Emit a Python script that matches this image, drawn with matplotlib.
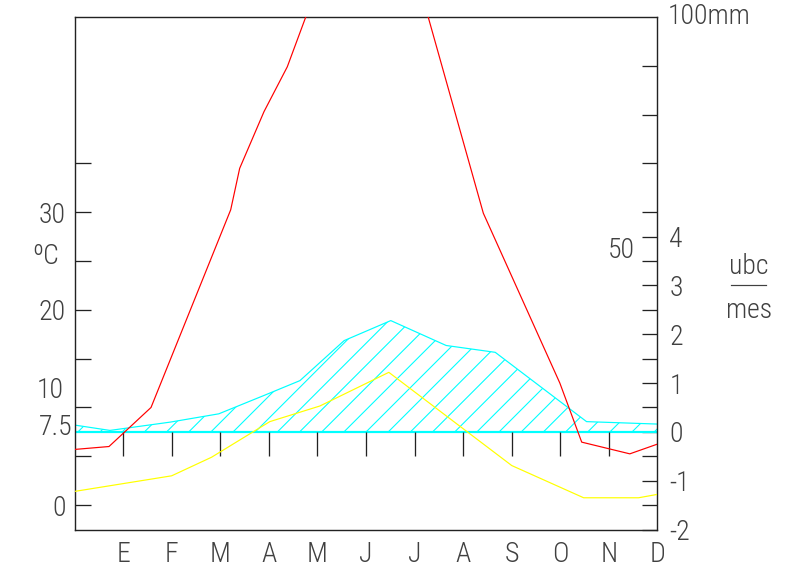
import os
import numpy as np
import matplotlib
matplotlib.use("Agg")
from matplotlib import pyplot as plt
from matplotlib import font_manager as fm
from matplotlib.lines import Line2D

# dpi chosen so that the '//' hatch spacing matches the reference
DPI = 133
PX = 72 / DPI  # points per pixel
W, H = 795, 571

plt.rcParams['hatch.linewidth'] = 1.1 * PX

months = ['E', 'F', 'M', 'A', 'M', 'J', 'J', 'A', 'S', 'O', 'N', 'D']

# temperature (ºC), yellow
temp_x = [0, 2.0, 2.82, 4.02, 5.05, 6.47, 9.0, 10.48, 11.61, 12]
temp_c = [1.4, 3.0, 4.9, 8.55, 10.15, 13.6, 4.05, 0.75, 0.75, 1.1]

# precipitation (mm), red, goes above 100 mm in summer (clipped)
rain_x = [0, 0.71, 1.575, 3.215, 3.40, 3.90, 4.38, 4.76, 5.4, 6.2, 6.9,
          7.28, 8.415, 9.99, 10.44, 11.43, 12]
rain_mm = [11.4, 12.0, 20.0, 60.5, 69, 80.6, 89.8, 100, 115, 125, 110,
           100, 59.8, 25.0, 12.9, 10.5, 12.5]

# ubc/mes, cyan hatched area
ubc_x = [0, 0.73, 1.97, 2.97, 3.91, 4.64, 5.55, 6.51, 7.65, 8.66, 10.54, 12]
ubc_val = [0.14, 0.03, 0.2, 0.37, 0.75, 1.05, 1.87, 2.28, 1.77, 1.63, 0.21, 0.16]

temp_ticks = [0, 5, 10, 15, 20, 25, 30, 35]
temp_labels = ['0', '', '', '', '20', '', '30', '']
mm_ticks = [0, 10, 20, 30, 40, 50, 60, 70, 80, 90]
ubc_ticks = [-2, -1, 0, 1, 2, 3, 4]

TXT = '#404040'
INK = '#222222'
FS = 15

# look for a narrow, light font file (the original uses a thin plotter font)
wanted = ['NotoSans-ExtraCondensedLight.', 'NotoSans-ExtraCondensed.',
          'NotoSans-CondensedLight.', 'NotoSans-Condensed.',
          'RobotoCondensed-Light', 'RobotoCondensed-Regular',
          'LiberationSansNarrow-Regular', 'DejaVuSansCondensed.']
files = [f.fname for f in fm.fontManager.ttflist]
font_file = None
for w in wanted:
    hits = [p for p in files if os.path.basename(p).startswith(w)]
    if hits:
        font_file = hits[0]
        break
if font_file:
    fp = fm.FontProperties(fname=font_file, size=FS)
else:
    fp = fm.FontProperties(family='DejaVu Sans', stretch='condensed', size=FS)

fig = plt.figure(figsize=(W / DPI, H / DPI), dpi=DPI)
pos = [74.5 / W, 1 - 529.5 / H, 583 / W, 512.5 / H]

axu = fig.add_axes(pos)      # ubc axis (drawn first, under the lines)
ax = axu.twinx()             # temperature axis
axm = axu.twinx()            # mm axis

axu.set_xlim(0, 12)
axu.set_ylim(-2, 8.5)
ax.set_ylim(-2.5, 50)
axm.set_ylim(-5, 100)

for s in axu.spines.values():
    s.set_color(INK)
    s.set_linewidth(1.4 * PX)
for a in (ax, axm):
    for s in a.spines.values():
        s.set_visible(False)

# months along the bottom
axu.set_xticks(np.arange(1, len(months) + 1), labels=months)
axu.tick_params(axis='x', length=0, pad=11 * PX, labelcolor=TXT)

# ubc ticks on the right
axu.yaxis.tick_right()
axu.set_yticks(ubc_ticks, labels=[str(v) for v in ubc_ticks])
axu.tick_params(axis='y', direction='in', length=15 * PX, width=1.3 * PX,
                color=INK, pad=12 * PX, labelcolor=TXT)

# temperature ticks on the left
ax.yaxis.tick_left()
ax.set_yticks(temp_ticks, labels=temp_labels)
ax.tick_params(axis='y', direction='in', length=16 * PX, width=1.3 * PX,
               color=INK, pad=9 * PX, labelcolor=TXT)

# mm ticks on the right, no labels
axm.set_yticks(mm_ticks, labels=[])
axm.tick_params(axis='y', direction='in', length=15 * PX, width=1.3 * PX,
                color=INK)

for lab in axu.get_xticklabels() + axu.get_yticklabels() + ax.get_yticklabels():
    lab.set_fontproperties(fp)

# cyan hatched area
axu.fill_between(ubc_x, ubc_val, 0, facecolor='none', edgecolor='#00ffff',
                 hatch='//', linewidth=0)
axu.plot(ubc_x, ubc_val, color='#00ffff', lw=1.2 * PX)
axu.axhline(0, color='#00ffff', lw=2.2 * PX)

# month marks under the zero line
ax.vlines(np.arange(1, len(months)), 5, 7.5, color=INK, lw=1.3 * PX)

ax.plot(temp_x, temp_c, color='#ffff00', lw=1.2 * PX)
axm.plot(rain_x, rain_mm, color='#ff0000', lw=1.2 * PX)

# extra labels
ax.text(-0.018, 11.7, '10', transform=ax.get_yaxis_transform(),
        ha='right', va='center', fontproperties=fp, color=TXT)
ax.text(-0.003, 7.9, '7.5', transform=ax.get_yaxis_transform(),
        ha='right', va='center', fontproperties=fp, color=TXT)
fig.text(46 / W, 1 - 256 / H, 'ºC', ha='center', va='center',
         fontproperties=fp, color=TXT)
axm.text(1.018, 100, '100mm', transform=axm.get_yaxis_transform(),
         ha='left', va='center', fontproperties=fp, color=TXT)
axm.text(0.9614, 52.1, '50', transform=axm.get_yaxis_transform(),
         ha='right', va='center', fontproperties=fp, color=TXT)
fig.text(749 / W, 1 - 266 / H, 'ubc', ha='center', va='center',
         fontproperties=fp, color=TXT)
fig.text(749 / W, 1 - 311 / H, 'mes', ha='center', va='center',
         fontproperties=fp, color=TXT)
fig.add_artist(Line2D([731 / W, 766 / W], [1 - 285 / H, 1 - 285 / H],
                      color=TXT, lw=1.2 * PX))

fig.savefig('out.png', dpi=DPI)
